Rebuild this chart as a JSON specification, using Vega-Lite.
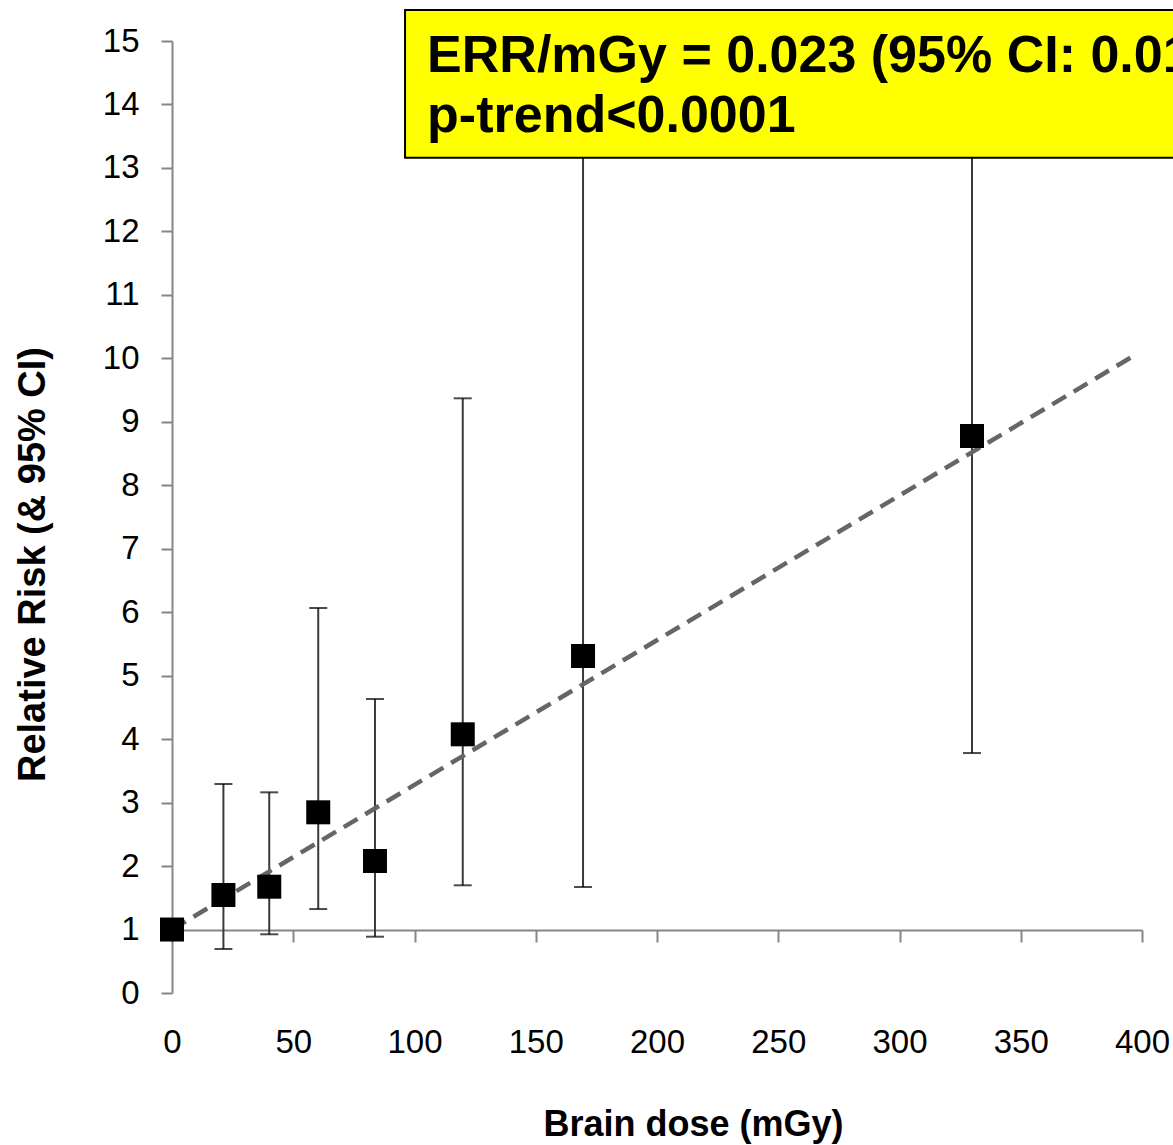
{
  "$schema": "https://vega.github.io/schema/vega-lite/v6.json",
  "autosize": {"type": "none"},
  "width": 970,
  "height": 952,
  "padding": {"left": 172, "top": 41, "right": 31, "bottom": 152},
  "background": "white",
  "view": {"stroke": null},
  "config": {"font": "Liberation Sans"},
  "datasets": {
    "points": [
      {"dose": 0, "rr": 1.0, "lo": 1.0, "hi": 1.0},
      {"dose": 21.2, "rr": 1.544, "lo": 0.693, "hi": 3.293},
      {"dose": 40.1, "rr": 1.675, "lo": 0.925, "hi": 3.162},
      {"dose": 60.3, "rr": 2.847, "lo": 1.323, "hi": 6.066},
      {"dose": 83.7, "rr": 2.08, "lo": 0.887, "hi": 4.632},
      {"dose": 119.9, "rr": 4.076, "lo": 1.697, "hi": 9.37},
      {"dose": 169.5, "rr": 5.31, "lo": 1.67, "hi": 15},
      {"dose": 329.9, "rr": 8.776, "lo": 3.781, "hi": 15}
    ],
    "trend": [
      {"dose": 0, "rr": 1.0},
      {"dose": 397, "rr": 10.05}
    ],
    "note": [
      {"note": "ERR/mGy = 0.023 (95% CI: 0.010-0.049)\np-trend<0.0001"}
    ]
  },
  "layer": [
    {
      "data": {"name": "points"},
      "transform": [{"filter": "datum.dose > 0"}],
      "mark": {"type": "rule", "color": "#3a3a3a", "strokeWidth": 2},
      "encoding": {
        "x": {
          "field": "dose", "type": "quantitative",
          "scale": {"domain": [0, 400], "nice": false},
          "axis": {
            "orient": "bottom",
            "offset": -63,
            "values": [0, 50, 100, 150, 200, 250, 300, 350, 400],
            "format": "d",
            "labelFlush": false,
            "labelOverlap": false,
            "labelBound": false,
            "grid": false,
            "domainColor": "#868686",
            "domainWidth": 2,
            "tickColor": "#868686",
            "tickWidth": 2,
            "tickSize": 12,
            "labelFontSize": 33,
            "labelColor": "#000000",
            "labelBaseline": "alphabetic",
            "labelPadding": 110,
            "title": "Brain dose (mGy)",
            "titleFontSize": 36,
            "titleFontWeight": "bold",
            "titleColor": "#000000",
            "titleBaseline": "alphabetic",
            "titleAlign": "center",
            "titleX": 521,
            "titleY": 205
          }
        },
        "y": {
          "field": "lo", "type": "quantitative",
          "scale": {"domain": [0, 15], "nice": false},
          "axis": {
            "orient": "left",
            "values": [0, 1, 2, 3, 4, 5, 6, 7, 8, 9, 10, 11, 12, 13, 14, 15],
            "format": "d",
            "labelFlush": false,
            "labelOverlap": false,
            "labelBound": false,
            "grid": false,
            "domainColor": "#868686",
            "domainWidth": 2,
            "tickColor": "#868686",
            "tickWidth": 2,
            "tickSize": 11,
            "labelFontSize": 33,
            "labelColor": "#000000",
            "labelPadding": 22,
            "title": "Relative Risk (& 95% CI)",
            "titleFontSize": 38,
            "titleFontWeight": "bold",
            "titleColor": "#000000",
            "titleAngle": 270,
            "titleBaseline": "alphabetic",
            "titleAlign": "center",
            "titleX": -128,
            "titleY": 523
          }
        },
        "y2": {"field": "hi"}
      }
    },
    {
      "data": {"name": "points"},
      "transform": [{"filter": "datum.dose > 0"}],
      "mark": {"type": "tick", "orient": "horizontal", "color": "#000000", "size": 18, "thickness": 2},
      "encoding": {
        "x": {"field": "dose", "type": "quantitative"},
        "y": {"field": "lo", "type": "quantitative"}
      }
    },
    {
      "data": {"name": "points"},
      "transform": [{"filter": "datum.dose > 0"}],
      "mark": {"type": "tick", "orient": "horizontal", "color": "#000000", "size": 18, "thickness": 2},
      "encoding": {
        "x": {"field": "dose", "type": "quantitative"},
        "y": {"field": "hi", "type": "quantitative"}
      }
    },
    {
      "data": {"name": "trend"},
      "mark": {"type": "line", "color": "#666666", "strokeWidth": 4.5, "strokeDash": [16, 9]},
      "encoding": {
        "x": {"field": "dose", "type": "quantitative"},
        "y": {"field": "rr", "type": "quantitative"}
      }
    },
    {
      "data": {"name": "points"},
      "mark": {"type": "point", "shape": "square", "filled": true, "size": 576, "color": "#000000", "opacity": 1},
      "encoding": {
        "x": {"field": "dose", "type": "quantitative"},
        "y": {"field": "rr", "type": "quantitative"}
      }
    },
    {
      "data": {"name": "note"},
      "mark": {"type": "rect", "fill": "#FFFF00", "stroke": "#000000", "strokeWidth": 2},
      "encoding": {
        "x": {"datum": 96.1, "type": "quantitative"},
        "x2": {"datum": 425},
        "y": {"datum": 13.16, "type": "quantitative"},
        "y2": {"datum": 15.49}
      }
    },
    {
      "data": {"name": "note"},
      "mark": {"type": "text", "align": "left", "baseline": "alphabetic", "fontSize": 52, "fontWeight": "bold", "color": "#000000", "lineBreak": "\n", "lineHeight": 60},
      "encoding": {
        "x": {"datum": 105.2, "type": "quantitative"},
        "y": {"datum": 14.51, "type": "quantitative"},
        "text": {"field": "note"}
      }
    }
  ]
}
